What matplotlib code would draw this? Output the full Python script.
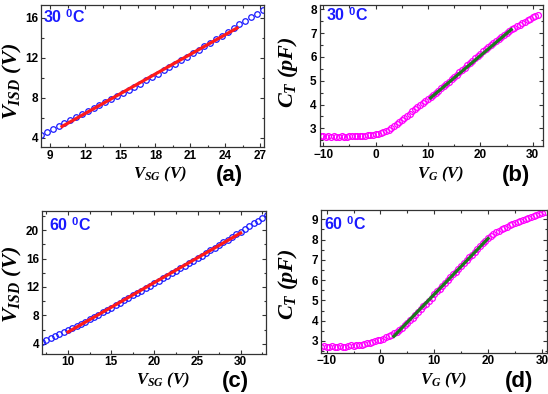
import matplotlib
matplotlib.use("Agg")
import matplotlib.pyplot as plt
import numpy as np
from matplotlib.ticker import MultipleLocator

plt.rcParams['mathtext.fontset'] = 'custom'
plt.rcParams['mathtext.it'] = 'Liberation Serif:bold:italic'
plt.rcParams['mathtext.rm'] = 'Liberation Serif:bold:italic'
plt.rcParams['mathtext.bf'] = 'Liberation Serif:bold:italic'
plt.rcParams['mathtext.sf'] = 'Liberation Sans:bold'

# (a) V_ISD vs V_SG at 30 C
vsg_30 = np.arange(8.2, 27.25, 0.5)
visd_30 = [4.25, 4.6, 4.9, 5.2, 5.5, 5.8, 6.05, 6.35, 6.65, 6.95, 7.25, 7.55, 7.85,
           8.15, 8.45, 8.75, 9.1, 9.4, 9.75, 10.1, 10.4, 10.75, 11.05, 11.4, 11.75,
           12.1, 12.45, 12.8, 13.15, 13.5, 13.85, 14.2, 14.6, 14.95, 15.35, 15.7,
           16.05, 16.4, 16.8]
fit_a_x = [10, 25]
fit_a_y = [5.15, 15.0]

# (b) C_T vs V_G at 30 C
vg_30 = np.arange(-10.5, 31.05, 0.5)
ct_30 = [2.66, 2.67, 2.65, 2.68, 2.64, 2.66, 2.65, 2.64, 2.66, 2.65, 2.63, 2.66, 2.68,
         2.69, 2.67, 2.69, 2.70, 2.70, 2.71, 2.72, 2.73, 2.75, 2.77, 2.80, 2.84, 2.89,
         2.95, 3.02, 3.09, 3.17, 3.25, 3.34, 3.43, 3.52, 3.62, 3.72, 3.82, 3.91, 4.00,
         4.08, 4.16, 4.23, 4.31, 4.40, 4.49, 4.58, 4.68, 4.77, 4.87, 4.96, 5.06, 5.16,
         5.25, 5.35, 5.45, 5.54, 5.64, 5.74, 5.84, 5.94, 6.04, 6.13, 6.23, 6.32, 6.41,
         6.50, 6.59, 6.68, 6.76, 6.85, 6.93, 7.01, 7.09, 7.16, 7.23, 7.30, 7.36, 7.42,
         7.48, 7.54, 7.60, 7.66, 7.72, 7.77]
fit_b_x = [10.5, 25.9]
fit_b_y = [4.28, 7.15]

# (c) V_ISD vs V_SG at 60 C
vsg_60 = np.arange(7.0, 33.05, 0.5)
visd_60 = [4.30, 4.55, 4.80, 5.05, 5.32, 5.60, 5.90, 6.20, 6.50, 6.80, 7.12, 7.44, 7.76,
           8.08, 8.42, 8.76, 9.10, 9.44, 9.78, 10.12, 10.46, 10.80, 11.15, 11.50, 11.85,
           12.20, 12.55, 12.90, 13.25, 13.60, 13.95, 14.30, 14.65, 15.00, 15.35, 15.70,
           16.05, 16.42, 16.79, 17.16, 17.53, 17.90, 18.27, 18.65, 19.03, 19.41, 19.80,
           20.18, 20.56, 20.94, 21.32, 21.70, 22.08]
fit_c_x = [10, 30]
fit_c_y = [5.65, 19.6]

# (d) C_T vs V_G at 60 C
vg_60 = np.arange(-11.0, 30.55, 0.5)
ct_60 = [2.72, 2.73, 2.71, 2.72, 2.73, 2.71, 2.72, 2.73, 2.71, 2.72, 2.74, 2.80, 2.77,
         2.78, 2.79, 2.82, 2.85, 2.88, 2.91, 2.95, 2.99, 3.03, 3.07, 3.12, 3.18, 3.24,
         3.31, 3.38, 3.46, 3.56, 3.66, 3.77, 3.89, 4.01, 4.14, 4.27, 4.41, 4.55, 4.70,
         4.84, 4.99, 5.14, 5.29, 5.44, 5.58, 5.72, 5.86, 6.00, 6.14, 6.28, 6.42, 6.56,
         6.70, 6.84, 6.98, 7.12, 7.26, 7.40, 7.54, 7.68, 7.82, 7.94, 8.06, 8.16, 8.26,
         8.35, 8.43, 8.50, 8.57, 8.64, 8.70, 8.76, 8.82, 8.88, 8.93, 8.98, 9.03, 9.08,
         9.13, 9.18, 9.22, 9.27, 9.31, 9.36]
fit_d_x = [2.5, 20]
fit_d_y = [3.23, 8.05]

W, H = 548, 394
fig = plt.figure(figsize=(W / 100, H / 100), dpi=100)


def make_axes(l, t, r, b):
    # pixel box -> figure fraction
    return fig.add_axes([l / W, 1 - b / H, (r - l) / W, (b - t) / H])


def style(ax, xlim, ylim, xmaj, xmin, ymaj, ymin):
    ax.set_xlim(*xlim)
    ax.set_ylim(*ylim)
    ax.xaxis.set_major_locator(MultipleLocator(xmaj))
    ax.xaxis.set_minor_locator(MultipleLocator(xmin))
    ax.yaxis.set_major_locator(MultipleLocator(ymaj))
    ax.yaxis.set_minor_locator(MultipleLocator(ymin))
    ax.tick_params(which='both', direction='in', top=True, right=True,
                   color='#333333', width=0.8)
    ax.tick_params(which='major', length=3, labelsize=8.5, pad=2)
    ax.tick_params(which='minor', length=1.8)
    for lab in ax.get_xticklabels() + ax.get_yticklabels():
        lab.set_fontweight('bold')
        lab.set_fontfamily('Liberation Sans')
    for s in ax.spines.values():
        s.set_color('#333333')
        s.set_linewidth(0.9)


xl = dict(family='Liberation Serif', weight='bold', style='italic', fontsize=12,
          ha='center', va='center')
yl = dict(xl, fontsize=16, rotation=90)
tag = dict(family='Liberation Sans', weight='bold', fontsize=16, ha='center', va='center')
temp = dict(family='Liberation Sans', weight='bold', fontsize=11.5, color='#1a1aff',
            ha='left', va='center')

# (a)
ax = make_axes(41, 5, 264, 147)
ax.plot(vsg_30, visd_30, 'o', mfc='none', mec='#1a1aff', ms=4, mew=0.9)
ax.plot(fit_a_x, fit_a_y, '-', color='#ff1a1a', lw=2.3)
style(ax, (8.2, 27.3), (3.1, 17.3), 3, 1.5, 4, 2)
fig.text(12 / W, 1 - 81 / H, '$V_{ISD}$ (V)', **yl)
fig.text(160 / W, 1 - 174 / H, '$V_{SG}$ (V)', **xl)
fig.text(229 / W, 1 - 176 / H, '(a)', **tag)
fig.text(43 / W, 1 - 17 / H, '30 $^{\\mathsf{0}}$C', **temp)

# (b)
ax = make_axes(319.5, 5, 542.7, 146)
ax.plot(vg_30, ct_30, 'o', mfc='none', mec='#ff00ff', ms=4.2, mew=0.9)
ax.plot(fit_b_x, fit_b_y, '-', color='#1f7a1f', lw=2.3)
style(ax, (-10.7, 31.9), (2.26, 8.18), 10, 5, 1, 0.5)
fig.text(288 / W, 1 - 72 / H, '$C_{T}$ (pF)', **yl)
fig.text(441 / W, 1 - 174 / H, '$V_{G}$ (V)', **xl)
fig.text(516 / W, 1 - 176 / H, '(b)', **tag)
fig.text(326 / W, 1 - 15 / H, '30 $^{\\mathsf{0}}$C', **temp)

# (c)
ax = make_axes(41.7, 211, 265.7, 353.7)
ax.plot(vsg_60, visd_60, 'o', mfc='none', mec='#1a1aff', ms=4, mew=0.9)
ax.plot(fit_c_x, fit_c_y, '-', color='#ff1a1a', lw=2.3)
style(ax, (6.95, 32.9), (2.6, 22.7), 5, 2.5, 4, 2)
fig.text(12 / W, 1 - 284 / H, '$V_{ISD}$ (V)', **yl)
fig.text(163 / W, 1 - 380 / H, '$V_{SG}$ (V)', **xl)
fig.text(235 / W, 1 - 381 / H, '(c)', **tag)
fig.text(49 / W, 1 - 225 / H, '60 $^{\\mathsf{0}}$C', **temp)

# (d)
ax = make_axes(320.7, 209.7, 546.7, 352.7)
ax.plot(vg_60, ct_60, 'o', mfc='none', mec='#ff00ff', ms=4.2, mew=0.9)
ax.plot(fit_d_x, fit_d_y, '-', color='#1f7a1f', lw=2.3)
style(ax, (-11.1, 30.9), (2.42, 9.47), 10, 5, 1, 0.5)
fig.text(288 / W, 1 - 284 / H, '$C_{T}$ (pF)', **yl)
fig.text(444 / W, 1 - 380 / H, '$V_{G}$ (V)', **xl)
fig.text(519 / W, 1 - 381 / H, '(d)', **tag)
fig.text(324 / W, 1 - 224 / H, '60 $^{\\mathsf{0}}$C', **temp)

fig.savefig('out.png', dpi=100)
